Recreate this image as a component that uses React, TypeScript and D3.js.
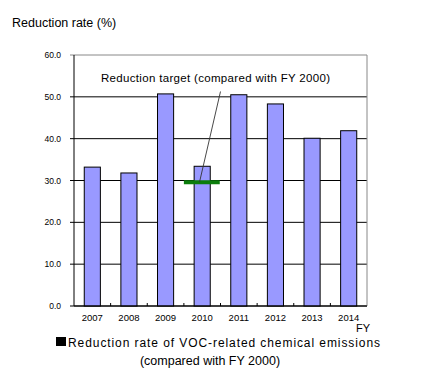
import React from 'react'
import * as d3 from 'd3'

const years = ['2007', '2008', '2009', '2010', '2011', '2012', '2013', '2014']
const rates = [33.2, 31.8, 50.7, 33.4, 50.5, 48.3, 40.1, 41.9]
const yTicks = [0, 10, 20, 30, 40, 50, 60]
const target = { year: '2010', value: 29.6 }

const W = 423
const H = 391
const plot = { left: 74, right: 367, top: 55, bottom: 306 }
const font = '"Liberation Sans", Arial, sans-serif'

const App = () => {
  const x = d3
    .scaleBand()
    .domain(years)
    .range([plot.left, plot.right])
    .paddingInner(0.56)
    .paddingOuter(0.28)
  const y = d3.scaleLinear().domain([0, 60]).range([plot.bottom, plot.top])
  const step = x.step()
  const bandStart = (d) => plot.left + years.indexOf(d) * step

  const tx = bandStart(target.year)
  const ty = y(target.value)

  return (
    <svg
      width={W}
      height={H}
      style={{ position: 'absolute', left: 0, top: 0, background: '#fff' }}
    >
      <text x={12} y={27} fontFamily={font} fontSize={12.5} fill="#000">
        Reduction rate (%)
      </text>

      {/* grid */}
      {yTicks.map(t => (
        <g key={t}>
          <line
            x1={plot.left - 4}
            x2={plot.right}
            y1={y(t)}
            y2={y(t)}
            stroke={t === 60 ? '#888' : '#000'}
            strokeWidth={1}
          />
          <text
            x={61}
            y={y(t) + 3}
            textAnchor="end"
            fontFamily={font}
            fontSize={8.5}
            fill="#000"
          >
            {d3.format('.1f')(t)}
          </text>
        </g>
      ))}
      <line x1={plot.right} x2={plot.right} y1={plot.top} y2={plot.bottom} stroke="#888" />
      <line x1={plot.left} x2={plot.left} y1={plot.top} y2={plot.bottom} stroke="#000" />

      {/* bars */}
      {years.map((d, i) => (
        <rect
          key={d}
          x={x(d)}
          y={y(rates[i])}
          width={x.bandwidth()}
          height={plot.bottom - y(rates[i])}
          fill="#9999ff"
          stroke="#000"
          strokeWidth={1}
        />
      ))}
      <line x1={plot.left} x2={plot.right} y1={plot.bottom} y2={plot.bottom} stroke="#000" />

      {/* category ticks */}
      {years.slice(1).map(d => (
        <line
          key={d}
          x1={bandStart(d)}
          x2={bandStart(d)}
          y1={plot.bottom}
          y2={plot.bottom - 3}
          stroke="#000"
        />
      ))}
      {years.map(d => (
        <text
          key={d}
          x={x(d) + x.bandwidth() / 2}
          y={321}
          textAnchor="middle"
          fontFamily={font}
          fontSize={9.5}
          fill="#000"
        >
          {d}
        </text>
      ))}
      <text x={370} y={332} textAnchor="end" fontFamily={font} fontSize={11} fill="#000">
        FY
      </text>

      {/* target */}
      <line
        x1={tx}
        x2={tx + step * 0.98}
        y1={ty}
        y2={ty}
        stroke="#0b7d0b"
        strokeWidth={4}
      />
      <line x1={199.5} y1={ty} x2={220.5} y2={91.5} stroke="#333" strokeWidth={0.9} />
      <text x={101} y={82} fontFamily={font} fontSize={11.5} fill="#000" textLength={229}>
        Reduction target (compared with FY 2000)
      </text>

      {/* legend */}
      <rect x={56} y={337} width={10} height={9} fill="#000" />
      <text x={68} y={347} fontFamily={font} fontSize={12} fill="#000" textLength={312}>
        Reduction rate of VOC-related chemical emissions
      </text>
      <text x={210} y={365} textAnchor="middle" fontFamily={font} fontSize={12.5} fill="#000">
        (compared with FY 2000)
      </text>
    </svg>
  )
}

export default App
